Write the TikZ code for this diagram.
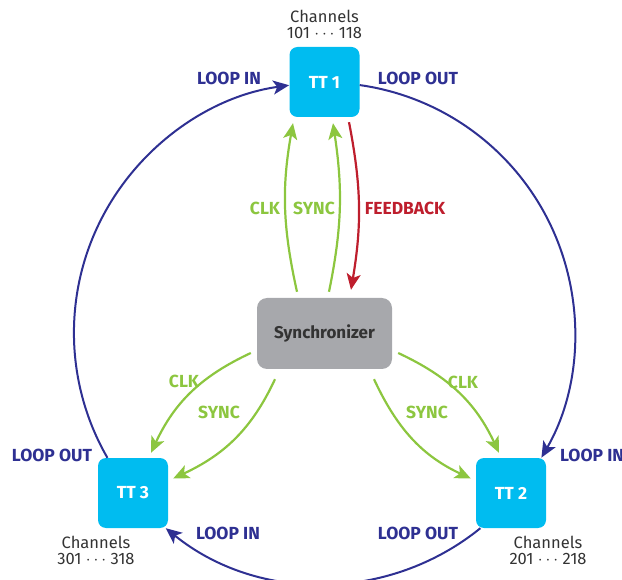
\documentclass[tikz,border=0pt]{standalone}
\usepackage{fontspec}
\setmainfont{Fira Sans}
\usetikzlibrary{arrows.meta,calc}
\definecolor{ttcyan}{HTML}{00BCF0}
\definecolor{syncgray}{HTML}{A7A8AC}
\definecolor{loopblue}{HTML}{2E3092}
\definecolor{clkgreen}{HTML}{8CC63F}
\definecolor{fbred}{HTML}{BE1E2D}
\definecolor{txtdark}{HTML}{333333}
\begin{document}
\begin{tikzpicture}[x=1pt,y=1pt,
  ttbox/.style={rectangle,rounded corners=8pt,fill=ttcyan,minimum width=70pt,minimum height=70pt,inner sep=0pt,text=white,font=\fontsize{17.5}{19}\selectfont\bfseries},
  syncbox/.style={rectangle,rounded corners=10pt,fill=syncgray,minimum width=135pt,minimum height=71pt,inner sep=0pt,text=txtdark,font=\fontsize{17}{19}\selectfont\bfseries},
  looplab/.style={text=loopblue,font=\fontsize{17.5}{19}\selectfont\bfseries,inner sep=0pt},
  grnlab/.style={text=clkgreen,font=\fontsize{17.5}{19}\selectfont\bfseries,inner sep=0pt},
  redlab/.style={text=fbred,font=\fontsize{17.5}{19}\selectfont\bfseries,inner sep=0pt},
  chanlab/.style={text=txtdark,font=\fontsize{16.5}{17}\selectfont,inner sep=0pt,anchor=base},
  loopline/.style={draw=loopblue,line width=2pt,-{Stealth[length=16pt,width=14pt,inset=4pt]}},
  grnline/.style={draw=clkgreen,line width=2.2pt,-{Stealth[length=16pt,width=14pt,inset=4pt]}},
  redline/.style={draw=fbred,line width=2.2pt,-{Stealth[length=16pt,width=14pt,inset=4pt]}}
]
\useasboundingbox (0,0) rectangle (622,-580);

% nodes
\node[ttbox] (tt1) at (324.5,-82) {TT 1};
\node[ttbox] (tt2) at (511,-493) {TT 2};
\node[ttbox] (tt3) at (133,-493) {TT 3};
\node[syncbox] (sync) at (324.5,-333.5) {Synchronizer};

% channel labels
\node[chanlab] (ch1a) at (324.5,-23) {Channels};
\node[chanlab] (ch1b) at (324.5,-39) {101 $\cdots$ 118};
\node[chanlab] (ch2a) at (548,-548) {Channels};
\node[chanlab] (ch2b) at (548,-564) {201 $\cdots$ 218};
\node[chanlab] (ch3a) at (96,-548) {Channels};
\node[chanlab] (ch3b) at (96,-564) {301 $\cdots$ 318};

% loop ring
\draw[loopline] (tt3.126.6) arc[start angle=210,end angle=98,radius=250pt];
\draw[loopline] (tt1.-5.6) arc[start angle=82,end angle=-30,radius=250pt];
\draw[loopline] (tt2.229.6) arc[start angle=-51,end angle=-129,radius=250pt];

% loop labels
\node[looplab] (li1) at (229,-78) {LOOP IN};
\node[looplab] (lo1) at (418,-78) {LOOP OUT};
\node[looplab,anchor=west] (li2) at (560,-455) {LOOP IN};
\node[looplab] (lo3) at (52,-455) {LOOP OUT};
\node[looplab] (li3) at (228,-533) {LOOP IN};
\node[looplab] (lo2) at (418,-533) {LOOP OUT};

% top green / red
\draw[grnline] ([xshift=-27.5pt,yshift=6pt]sync.north) to[out=102.5,in=-100] ([xshift=-31.5pt,yshift=-6pt]tt1.south);
\draw[grnline] ([xshift=4.5pt,yshift=6pt]sync.north) to[out=78.5,in=-81.5] ([xshift=8.5pt,yshift=-6pt]tt1.south);
\draw[redline] ([xshift=24.5pt,yshift=-5pt]tt1.south) to[out=-79,in=80.5] ([xshift=26.5pt,yshift=8pt]sync.north);
\node[grnlab] (clk1) at (265,-208) {CLK};
\node[grnlab] (syn1) at (314,-208) {SYNC};
\node[redlab] (fb) at (405,-208) {FEEDBACK};

% bottom-left
\draw[grnline] ([xshift=-6pt,yshift=-19.5pt]sync.west) to[out=205,in=65] ([xshift=18pt,yshift=5pt]tt3.north);
\draw[grnline] ([xshift=-49.5pt,yshift=-10pt]sync.south) to[out=245,in=25] ([xshift=5pt,yshift=14.5pt]tt3.east);
\node[grnlab] (clk3) at (184,-381) {CLK};
\node[grnlab] (syn3) at (219,-412) {SYNC};

% bottom-right
\draw[grnline] ([xshift=6pt,yshift=-19.5pt]sync.east) to[out=-25,in=115] ([xshift=-12pt,yshift=5pt]tt2.north);
\draw[grnline] ([xshift=49.5pt,yshift=-10pt]sync.south) to[out=-65,in=155] ([xshift=-5pt,yshift=14.5pt]tt2.west);
\node[grnlab] (clk2) at (463,-382) {CLK};
\node[grnlab] (syn2) at (427,-412) {SYNC};
\end{tikzpicture}
\end{document}
